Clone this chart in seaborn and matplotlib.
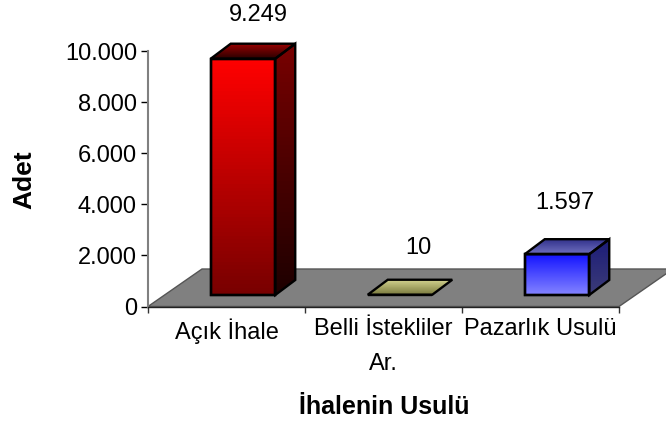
import numpy as np
import pandas as pd
import matplotlib
matplotlib.use("Agg")
import matplotlib.pyplot as plt
from matplotlib.colors import LinearSegmentedColormap
from matplotlib.patches import Polygon
import seaborn as sns

categories = ["Açık İhale", "Belli İstekliler\nAr.", "Pazarlık Usulü"]
values = [9249, 10, 1597]
value_labels = ["9.249", "10", "1.597"]
y_ticks = [0, 2000, 4000, 6000, 8000, 10000]
y_tick_labels = ["0", "2.000", "4.000", "6.000", "8.000", "10.000"]
x_title = "İhalenin Usulü"
y_title = "Adet"

front_cols = [("#ff0000", "#780000"), ("#b4b46e", "#b4b46e"), ("#1414ff", "#8484ff")]
side_cols = [("#780000", "#1e0000"), ("#6e6e3c", "#6e6e3c"), ("#1c1c78", "#3c3c78")]
top_cols = [("#960000", "#280000"), ("#d0d08c", "#78783c"), ("#32328c", "#6e6ebe")]
label_offsets_px = [(15, 29), (18, 32), (8, 36)]

W, H = 666, 428
L, R, T, B = 148, 619, 51, 306.5
DX_PX, DY_PX = 20, 15            # depth of the bars
SHIFT_X, SHIFT_Y = 16.5, 11.5    # bars stand in from the axes corner
FLOOR_X, FLOOR_Y = 54, 37.5      # depth of the floor
TEXT_SIZE = 17
EDGE = 1.7

sns.set_theme(style="white")
plt.rcParams["font.family"] = ["Liberation Sans", "DejaVu Sans"]

fig = plt.figure(figsize=(W / 100, H / 100), dpi=100, facecolor="white")
ax = fig.add_axes([L / W, 1 - B / H, (R - L) / W, (B - T) / H])
ax.patch.set_alpha(0)

df = pd.DataFrame({"cat": categories, "val": values})
sns.barplot(data=df, x="cat", y="val", ax=ax, width=64.5 / 157, color="white",
            edgecolor="black", linewidth=EDGE, zorder=5)
bars = list(ax.patches)
ax.set_xlim(-0.5, 2.5)
ax.set_ylim(0, 10000)

ux = 3.0 / (R - L)        # data units per pixel
uy = 10000.0 / (B - T)


def gradient(verts, c_top, c_bottom, z):
    """Polygon in data units filled with a vertical gradient."""
    poly = Polygon(verts, closed=True, fc="none", ec="black", lw=EDGE,
                   joinstyle="miter", clip_on=False, zorder=z + 0.1)
    ax.add_patch(poly)
    xs, ys = zip(*verts)
    cmap = LinearSegmentedColormap.from_list("g", [c_top, c_bottom])
    img = ax.imshow(np.linspace(0, 1, 64)[:, None], cmap=cmap, aspect="auto",
                    origin="upper", extent=(min(xs), max(xs), min(ys), max(ys)),
                    zorder=z)
    img.set_clip_box(fig.bbox)
    img.set_clip_path(Polygon(verts, closed=True, transform=ax.transData))


floor = Polygon([(-0.5, 0), (-0.5 + FLOOR_X * ux, FLOOR_Y * uy),
                 (2.5 + FLOOR_X * ux, FLOOR_Y * uy), (2.5, 0)], closed=True,
                fc="#808080", ec="#555555", lw=1.0, clip_on=False, zorder=1)
ax.add_patch(floor)

sx, sy = SHIFT_X * ux, SHIFT_Y * uy
dx, dy = DX_PX * ux, DY_PX * uy
for i, p in enumerate(bars):
    x0 = p.get_x() + sx
    w = p.get_width()
    y0 = p.get_y() + sy
    h = p.get_height()
    p.set_x(x0)
    p.set_y(y0)
    p.set_facecolor("none")
    p.set_clip_on(False)
    p.set_zorder(4)
    x1, y1 = x0 + w, y0 + h
    if h / uy > 1:
        gradient([(x0, y0), (x1, y0), (x1, y1), (x0, y1)], *front_cols[i], 3)
        gradient([(x1, y0), (x1 + dx, y0 + dy), (x1 + dx, y1 + dy), (x1, y1)], *side_cols[i], 3)
    gradient([(x0, y1), (x1, y1), (x1 + dx, y1 + dy), (x0 + dx, y1 + dy)],
             top_cols[i][0], top_cols[i][1], 3)
    ox, oy = label_offsets_px[i]
    ax.annotate(value_labels[i], xy=(i, values[i]), xytext=(SHIFT_X + ox, SHIFT_Y + DY_PX + oy),
                textcoords="offset pixels", ha="center", va="center", fontsize=TEXT_SIZE,
                color="black", annotation_clip=False)

ax.set_xlim(-0.5, 2.5)
ax.set_ylim(0, 10000)

ax.set_yticks(y_ticks, y_tick_labels)
ax.set_xticks([-0.5, 0.5, 1.5, 2.5], ["", "", "", ""])
ax.set_xticks([0, 1, 2], categories, minor=True)
ax.tick_params(axis="y", which="major", left=True, length=5, width=1, color="black",
               labelsize=TEXT_SIZE, pad=3, labelcolor="black")
ax.tick_params(axis="x", which="major", bottom=True, length=4.5, width=1, color="#333333")
ax.tick_params(axis="x", which="minor", bottom=False, length=0, labelsize=TEXT_SIZE, pad=8.5,
               labelcolor="black")
for lab in ax.get_xticklabels(minor=True):
    lab.set_linespacing(1.72)
    lab.set_va("top")

for s in ["top", "right"]:
    ax.spines[s].set_visible(False)
ax.spines["left"].set_color("#808080")
ax.spines["left"].set_linewidth(1.5)
ax.spines["bottom"].set_color("#222222")
ax.spines["bottom"].set_linewidth(1.0)
ax.spines["left"].set_zorder(2)
ax.spines["bottom"].set_zorder(2)

ax.set_xlabel(x_title, fontsize=18, fontweight="bold", color="black", va="center")
ax.xaxis.set_label_coords((384 - L) / (R - L), -(407 - B) / (B - T))
ax.set_ylabel(y_title, fontsize=19, fontweight="bold", color="black", va="center")
ax.yaxis.set_label_coords((24 - L) / (R - L), (B - 180) / (B - T))

fig.savefig("out.png", dpi=100)
